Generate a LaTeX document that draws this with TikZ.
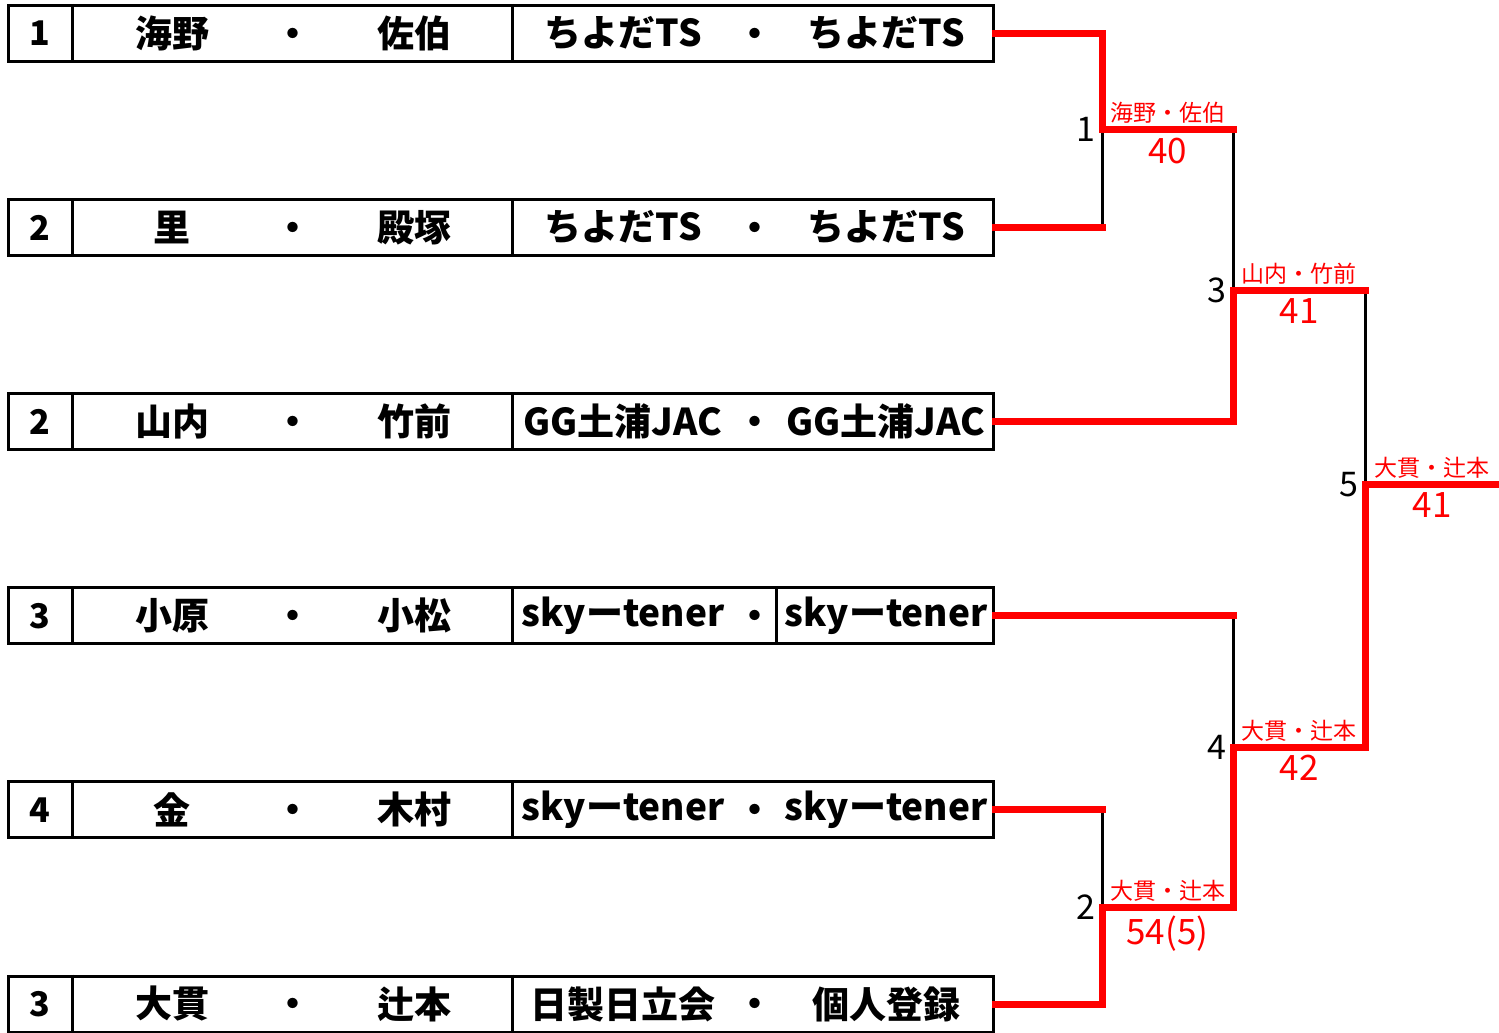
\documentclass[tikz,border=0pt]{standalone}
\usepackage{fontspec}
\setmainfont{Noto Sans CJK JP}
\usetikzlibrary{positioning}
\tikzset{entrybox/.style = {draw, line width = 3pt, minimum width = 985pt,
                            minimum height = 56pt, inner sep = 0}}
\tikzset{entrytext/.style = {font = \fontsize{37}{37}\selectfont\bfseries, inner sep = 0}}
\tikzset{dottext/.style = {entrytext, yshift = -4pt}}
\tikzset{seedtext/.style = {font = \fontsize{34}{34}\selectfont\bfseries, inner sep = 0}}
\tikzset{win/.style = {red, line width = 7pt, line cap = rect, line join = miter}}
\tikzset{lose/.style = {black, line width = 3pt}}
\tikzset{matchno/.style = {black, font = \fontsize{34}{34}\selectfont, left = 6pt, inner sep = 0}}
\tikzset{winner/.style = {red, font = \fontsize{23}{23}\selectfont, above = 2.5pt, inner sep = 0}}
\tikzset{score/.style = {red, font = \fontsize{35}{35}\selectfont, below = 5pt, inner sep = 0}}

\begin{document}
\begin{tikzpicture}[x = 1pt, y = -1pt]
  \useasboundingbox (0, 0) rectangle (1499, 1033);
  \coordinate (colA) at (72, 0);
  \coordinate (colB) at (512, 0);
  \coordinate (colC) at (776, 0);
  % entries
  \foreach \i/\seed/\nameA/\nameB/\clubA/\clubB [evaluate = \i as \y using 194.1*\i - 160.6] in
      {1/1/海野/佐伯/ちよだTS/ちよだTS,
       2/2/里/殿塚/ちよだTS/ちよだTS,
       3/2/山内/竹前/GG土浦JAC/GG土浦JAC,
       4/3/小原/小松/skyーtener/skyーtener,
       5/4/金/木村/skyーtener/skyーtener,
       6/3/大貫/辻本/日製日立会/個人登録} {
    \node [entrybox] (r\i) at (501, \y) {};
    \draw [lose] (r\i.north -| colA) -- (r\i.south -| colA);
    \draw [lose] (r\i.north -| colB) -- (r\i.south -| colB);
    \node [seedtext] (seed\i) at (40, \y) {\seed};
    \node [entrytext] (nameA\i) at (172, \y) {\nameA};
    \node [dottext] (dotA\i) at (293, \y) {・};
    \node [entrytext] (nameB\i) at (414, \y) {\nameB};
    \node [entrytext] (clubA\i) at (623, \y) {\clubA};
    \node [dottext] (dotB\i) at (755, \y) {・};
    \node [entrytext] (clubB\i) at (886, \y) {\clubB};
  }
  \draw [lose] (r4.north -| colC) -- (r4.south -| colC);
  % matches
  \coordinate (m1) at (1102, 129.5);
  \coordinate (m2) at (1102, 907);
  \coordinate (m3) at (1233, 290);
  \coordinate (m4) at (1233, 747);
  \coordinate (m5) at (1365, 484.5);
  \coordinate (final) at (1499, 484.5);
  \draw [lose] (r2.east -| m1) -- (m1);
  \draw [lose] (m1 -| m3) -- (m3);
  \draw [lose] (r4.east -| m4) -- (m4);
  \draw [lose] (r5.east -| m2) -- (m2);
  \draw [lose] (m3 -| m5) -- (m5);
  \draw [win] (r1.east) -| (m1)
        -- node [winner] (w1) {海野・佐伯} node [score] (s1) {40} (m1 -| m3);
  \draw [win] (r2.east) -- (r2.east -| m1);
  \draw [win] (r3.east) -| (m3)
        -- node [winner] (w3) {山内・竹前} node [score] (s3) {41} (m3 -| m5);
  \draw [win] (r4.east) -- (r4.east -| m4);
  \draw [win] (r5.east) -- (r5.east -| m2);
  \draw [win] (r6.east) -| (m2)
        -- node [winner] (w2) {大貫・辻本} node [score] (s2) {54(5)} (m2 -| m4) -- (m4)
        -- node [winner] (w4) {大貫・辻本} node [score] (s4) {42} (m4 -| m5) -- (m5)
        -- node [winner] (w5) {大貫・辻本} node [score] (s5) {41} (final);
  \node [matchno] (n1) at (m1) {1};
  \node [matchno] (n2) at (m2) {2};
  \node [matchno] (n3) at (m3) {3};
  \node [matchno] (n4) at (m4) {4};
  \node [matchno] (n5) at (m5) {5};
\end{tikzpicture}
\end{document}
